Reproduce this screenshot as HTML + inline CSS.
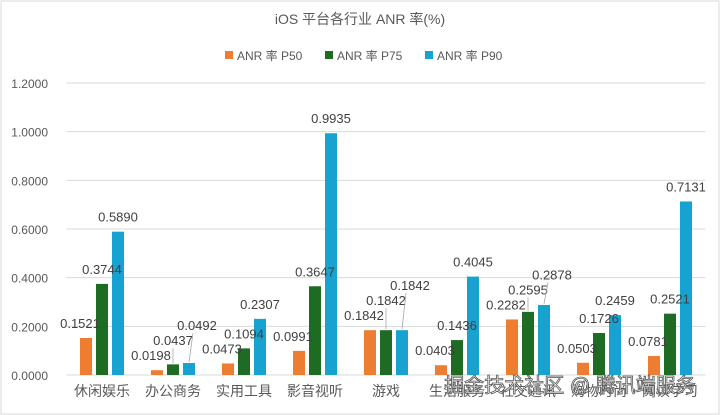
<!DOCTYPE html>
<html><head><meta charset="utf-8"><style>
body{margin:0;background:#fff;font-family:"Liberation Sans","Noto Sans CJK SC",sans-serif}
#c{position:absolute;left:0;top:0}
</style></head><body>
<svg id="c" width="720" height="415" xmlns="http://www.w3.org/2000/svg" font-family="Liberation Sans, Noto Sans CJK SC, sans-serif">
<rect x="1" y="1" width="718" height="413" fill="#fff" stroke="#d9d9d9"/>
<text x="360" y="24" text-anchor="middle" font-size="14" fill="#595959">iOS 平台各行业 ANR 率(%)</text>
<g id="legend"></g>
<g id="grid"></g><g id="bars"></g><g id="labels"></g>
<text x="570" y="392" text-anchor="middle" font-size="20" fill="#fff" stroke="#555" stroke-width="0.8">掘金技术社区 @ 腾讯端服务</text>
</svg>
<script>
const categories=["休闲娱乐","办公商务","实用工具","影音视听","游戏","生活服务","社交通讯","购物时尚","阅读学习"];
const p50=[0.1521,0.0198,0.0473,0.0991,0.1842,0.0403,0.2282,0.0503,0.0781];
const p75=[0.3744,0.0437,0.1094,0.3647,0.1842,0.1436,0.2595,0.1726,0.2521];
const p90=[0.5890,0.0492,0.2307,0.9935,0.1842,0.4045,0.2878,0.2459,0.7131];
const ticks=[0,0.2,0.4,0.6,0.8,1.0,1.2];
const seriesNames=["ANR 率 P50","ANR 率 P75","ANR 率 P90"];
const colors=["#ed7d31","#1e6b24","#17a2cf"];
const NS="http://www.w3.org/2000/svg";
const x0=66.5,x1=705.5,yb=375,yt=83;
const y=v=>yb-(v/1.2)*(yb-yt);
const gw=(x1-x0)/categories.length;
const bw=12;
function mk(t,a,p){const e=document.createElementNS(NS,t);for(const k in a)e.setAttribute(k,a[k]);document.getElementById(p).appendChild(e);return e;}
ticks.forEach((t,i)=>{
 const l=mk("line",{x1:x0,x2:x1,y1:y(t),y2:y(t),stroke:"#d9d9d9"},"grid");
 
 
 const tx=mk("text",{x:48,y:y(t)+5,"text-anchor":"end","font-size":"12",fill:"#595959"},"grid");
 tx.textContent=t.toFixed(4);
 
 
});
const series=[p50,p75,p90];
categories.forEach((c,i)=>{
 const cx=x0+gw*(i+0.5);
 let prev=1e9;
 series.forEach((s,j)=>{
  const bx=cx+(j-1)*16-bw/2;
  const r=mk("rect",{x:bx,y:y(s[i]),width:bw,height:yb-y(s[i]),fill:colors[j]},"bars");
  
  
  let ly=y(s[i])-10;
  const crowded=ly>prev-15;
  if(crowded) ly=prev-15;
  prev=ly;
  const lxp=bx+bw/2+(j==0?-6:0)+(crowded&&j==2?8:0);
  if(crowded){
   const ln=mk("line",{x1:bx+bw/2,y1:y(s[i])-1,x2:bx+bw/2+(j==2?4:0),y2:ly+3,stroke:"#a6a6a6","stroke-width":"0.8"},"labels");
   
   
  }
  const t=mk("text",{x:lxp,y:ly,"text-anchor":"middle","font-size":"13",fill:"#404040"},"labels");
  t.textContent=s[i].toFixed(4);
  
  
 });
 const ct=mk("text",{x:cx,y:396,"text-anchor":"middle","font-size":"14",fill:"#595959"},"labels");
 ct.textContent=c;
 
 
});
const lx=[225,325,425];
seriesNames.forEach((n,j)=>{
 const r=mk("rect",{x:lx[j],y:51,width:8,height:8,fill:colors[j]},"legend");
 
 
 const t=mk("text",{x:lx[j]+12,y:60,"font-size":"12",fill:"#595959"},"legend");
 t.textContent=n;
 
 
});
</script>
</body></html>
